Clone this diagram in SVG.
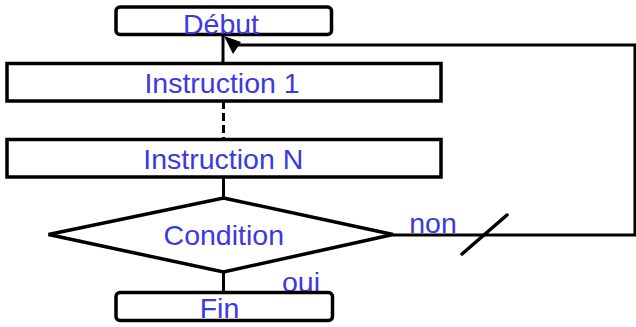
<svg xmlns="http://www.w3.org/2000/svg" width="636" height="327" viewBox="0 0 636 327">
<style>
.box{fill:#fff;stroke:#000;stroke-width:3.5}
.ln{fill:none;stroke:#000;stroke-width:3}
.t{font-family:"Liberation Sans",Arial,sans-serif;font-size:28.5px;fill:#3a3ade;text-anchor:middle}
</style>
<rect width="636" height="327" fill="#fff"/>
<g id="connectors">
<line class="ln" x1="223" y1="35" x2="223" y2="63"/>
<line class="ln" x1="223.5" y1="101" x2="223.5" y2="139" stroke-dasharray="8 4"/>
<line class="ln" x1="223.5" y1="177" x2="223.5" y2="198"/>
<line class="ln" x1="223.5" y1="272" x2="223.5" y2="292"/>
<polyline class="ln" points="393,235 635,235 635,45 236,45"/>
<polygon points="224,36 241,42 233,54" fill="#000"/>
<line x1="462" y1="254" x2="507" y2="215" stroke="#000" stroke-width="3.5" stroke-linecap="round"/>
<text class="t" x="433" y="232.5">non</text>
<text class="t" x="301" y="292">oui</text>
</g>
<g id="debut">
<rect class="box" x="116" y="7" width="215.5" height="27.5" rx="4"/>
<text class="t" x="221" y="33.5">Début</text>
</g>
<g id="instruction1">
<rect class="box" x="7" y="63.5" width="434" height="37.5"/>
<text class="t" x="222" y="93.3">Instruction 1</text>
</g>
<g id="instructionN">
<rect class="box" x="7" y="139.5" width="434" height="37.5"/>
<text class="t" x="223.3" y="169.3">Instruction N</text>
</g>
<g id="condition">
<polygon class="box" points="223.5,198 393,234.5 223.5,272 48.5,234.5"/>
<text class="t" x="223.8" y="245">Condition</text>
</g>
<g id="fin">
<rect class="box" x="116" y="292.5" width="216.5" height="28" rx="4"/>
<text class="t" x="219.5" y="317.5">Fin</text>
</g>
</svg>
